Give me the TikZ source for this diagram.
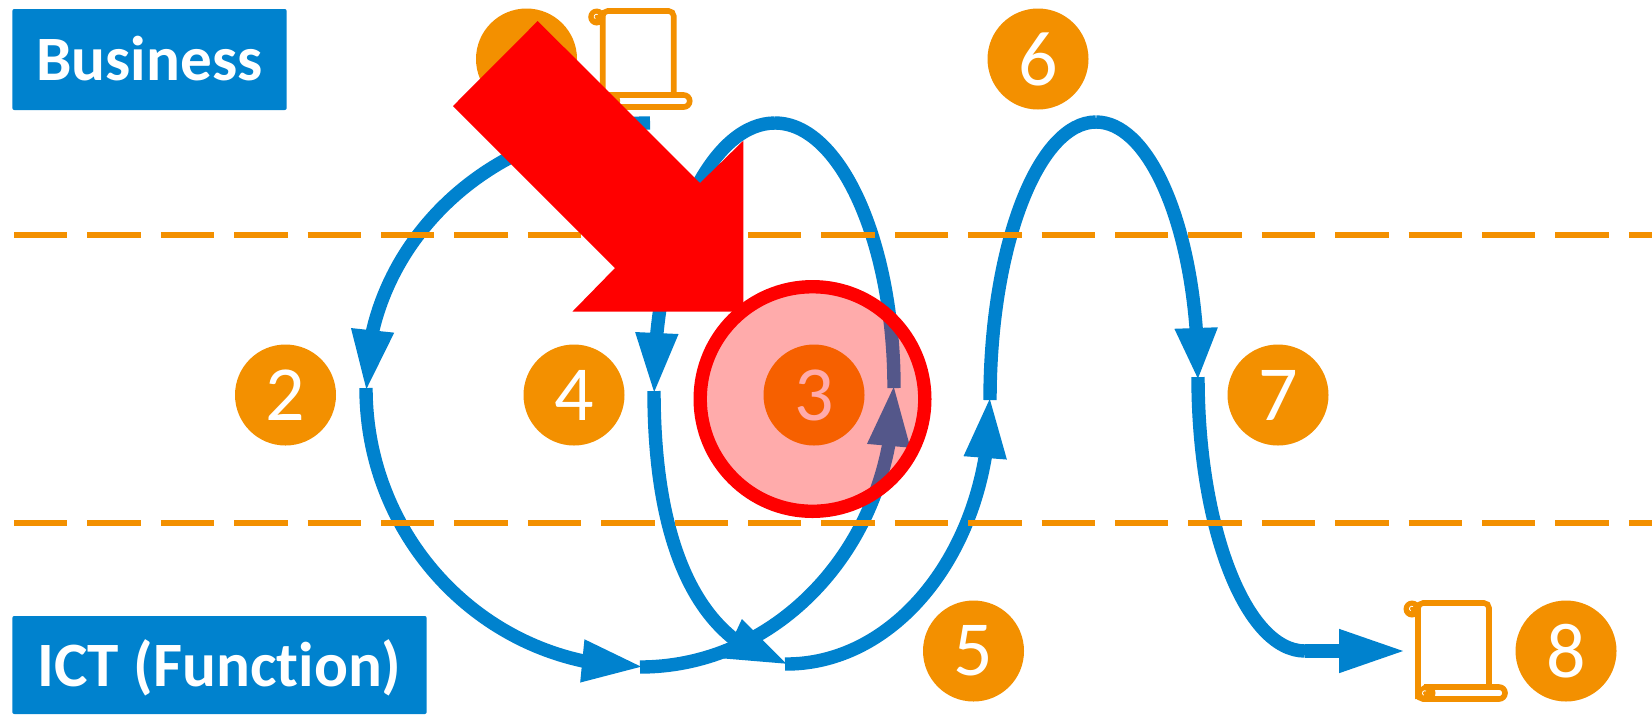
\documentclass[tikz,border=0pt]{standalone}
\usepackage{fontspec}
\setmainfont[Ligatures=NoCommon]{Carlito}
\usetikzlibrary{arrows.meta,bending}
\definecolor{bluec}{HTML}{0082CE}
\definecolor{orangec}{HTML}{F39000}
\tikzset{
  num/.style={circle,fill=orangec,minimum size=50.5pt,inner sep=0pt,text=white,font=\fontsize{39}{39}\selectfont},
  lab/.style={fill=bluec,rounded corners=1pt,inner sep=0pt,text=white,text height=21pt,text depth=0pt,font=\bfseries\fontsize{31.6}{31.6}\selectfont},
  flow/.style={draw=bluec,line width=6.7pt},
  flowtip/.style={flow,shorten >=-2pt,-{Triangle[length=31pt,width=19.5pt,flex]}},
  sep/.style={draw=orangec,line width=3.35pt,dash pattern=on 26.7pt off 10pt},
  iconl/.style={draw=orangec,line width=2.8pt},
  docicon/.pic={
    \draw[iconl,rounded corners=2.5pt,fill=white] (0,96) -- (0,0) -- (71,0) -- (71,84);
    \fill[orangec] (-6,6) circle[radius=4.25pt];
    \draw[white,line width=0.4pt] (-5,3.5) arc[start angle=60,end angle=240,radius=1.2pt];
    \draw[iconl,fill=white] (9,84) -- (81,84) arc[start angle=90,end angle=-90,radius=3pt] -- (9,96) -- cycle;
    \draw[iconl,rounded corners=2.5pt] (0,84) -- (0,96) -- (9,96);
    \fill[orangec] (9,90) circle[radius=4.25pt];
    \draw[white,line width=0.4pt] (8,88) arc[start angle=60,end angle=240,radius=1.2pt];
  }
}
\begin{document}
\begin{tikzpicture}[x=0.5pt,y=-0.5pt]
\useasboundingbox[fill=white] (0,0) rectangle (1652,714);
% labels
\node[lab,minimum width=137.2pt,minimum height=50.5pt] (biz) at (149.5,59.5) {Business};
\node[lab,minimum width=207.2pt,minimum height=49pt] (ict) at (219.5,665) {ICT (Function)};
% numbered circles
\node[num] (n1) at (526.5,59) {};
\node[num] (n2) at (285.5,395) {2};
\node[num] (n3) at (814,395) {3};
\node[num] (n4) at (574,395) {4};
\node[num] (n5) at (973.5,651) {5};
\node[num] (n6) at (1038,59) {6};
\node[num] (n7) at (1278,395) {7};
\node[num] (n8) at (1566,651) {8};
% documents
\pic at (602.7,11) {docicon};
\pic at (1418,603) {docicon};
% junctions
\coordinate (a) at (650,123);
\coordinate (b) at (366,388);
\coordinate (c) at (640,667);
\coordinate (d) at (894,388);
\coordinate (e) at (775,123);
\coordinate (f) at (654,391);
\coordinate (g) at (785,664);
\coordinate (h) at (990,400);
\coordinate (i) at (1096,122);
\coordinate (j) at (1198,377);
\coordinate (k) at (1305,651);
\coordinate (l) at (1406,651);
% flow
\draw[flowtip] (a) .. controls (493,123) and (366,242) .. (b);
\draw[flowtip] (b) .. controls (366,542) and (489,667) .. (c);
\draw[flowtip] (c) .. controls (780,667) and (894,542) .. (d);
\draw[flow] (d) .. controls (894,242) and (840,123) .. (e);
\draw[flowtip] (e) .. controls (708,123) and (654,245) .. (f);
\draw[flowtip] (f) .. controls (654,530) and (690,640) .. (g);
\draw[flowtip] (g) .. controls (898,665) and (990,546) .. (h);
\draw[flow] (h) .. controls (990,247) and (1038,122) .. (i);
\draw[flowtip,-{Triangle[length=26.5pt,width=19.5pt,flex]}] (i) .. controls (1152,122) and (1198,236) .. (j);
\draw[flow] (j) .. controls (1198,528) and (1246,651) .. (k);
\draw[flow,-{Triangle[length=33.5pt,width=20pt]}] (k) -- (l);
% separators
\draw[sep] (14,235) -- (1652,235);
\draw[sep] (14,523) -- (1652,523);
% highlight
\fill[red] (537.7,21) -- (453,106) -- (615,268) -- (572.3,311.7) -- (743.3,311.7) -- (743.3,140.7) -- (700,183) -- cycle;
\draw[red,line width=6.7pt,fill=red,fill opacity=0.33] (812.5,399) circle[radius=56.15pt];
\end{tikzpicture}
\end{document}
